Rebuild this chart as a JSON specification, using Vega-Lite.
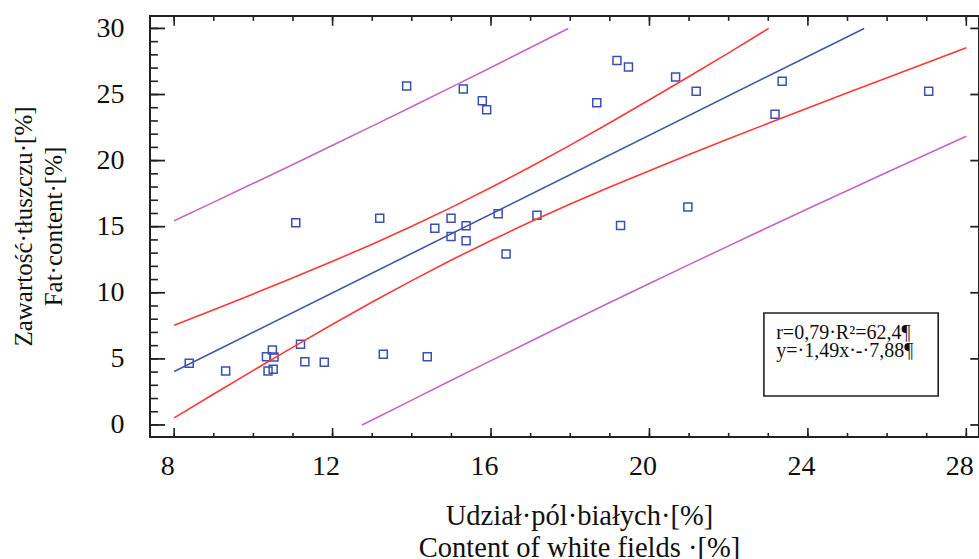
{
  "$schema": "https://vega.github.io/schema/vega-lite/v6.json",
  "autosize": {"type": "none"},
  "padding": {"left": 150, "top": 16, "right": 0, "bottom": 122},
  "width": 829,
  "height": 421,
  "background": "white",
  "config": {
    "view": {"stroke": "#222", "strokeWidth": 2},
    "axis": {"grid": false, "labelFont": "Liberation Serif", "titleFont": "Liberation Serif", "labelColor": "#111", "titleColor": "#111", "titleFontWeight": "normal", "labelFlush": false, "labelOverlap": false, "labelBound": false}
  },
  "datasets": {
    "pts": [
      {"x": 8.38, "y": 4.67}, {"x": 9.30, "y": 4.08}, {"x": 10.33, "y": 5.17}, {"x": 10.48, "y": 5.67},
      {"x": 10.52, "y": 5.15}, {"x": 10.37, "y": 4.08}, {"x": 10.50, "y": 4.21}, {"x": 11.19, "y": 6.10},
      {"x": 11.30, "y": 4.79}, {"x": 11.79, "y": 4.74}, {"x": 13.28, "y": 5.35}, {"x": 14.39, "y": 5.17},
      {"x": 11.07, "y": 15.30}, {"x": 13.19, "y": 15.63}, {"x": 14.58, "y": 14.88}, {"x": 14.99, "y": 15.63},
      {"x": 14.99, "y": 14.25}, {"x": 15.37, "y": 15.08}, {"x": 15.37, "y": 13.94}, {"x": 16.18, "y": 15.98},
      {"x": 16.38, "y": 12.93}, {"x": 17.16, "y": 15.86}, {"x": 19.27, "y": 15.10}, {"x": 20.97, "y": 16.49},
      {"x": 13.87, "y": 25.64}, {"x": 15.30, "y": 25.42}, {"x": 15.78, "y": 24.53}, {"x": 15.89, "y": 23.85},
      {"x": 18.67, "y": 24.38}, {"x": 19.18, "y": 27.58}, {"x": 19.47, "y": 27.08}, {"x": 20.66, "y": 26.32},
      {"x": 21.18, "y": 25.24}, {"x": 23.35, "y": 26.00}, {"x": 23.17, "y": 23.50}, {"x": 27.05, "y": 25.24}
    ],
    "curves": [
      {"s": "fit", "x": 8, "y": 4.04}, {"s": "fit", "x": 25.42, "y": 30.0},
      {"s": "ciu", "x": 8, "y": 7.54}, {"s": "ciu", "x": 9, "y": 8.72}, {"s": "ciu", "x": 10, "y": 9.91},
      {"s": "ciu", "x": 11, "y": 11.13}, {"s": "ciu", "x": 12, "y": 12.38}, {"s": "ciu", "x": 13, "y": 13.68},
      {"s": "ciu", "x": 14, "y": 15.04}, {"s": "ciu", "x": 15, "y": 16.46}, {"s": "ciu", "x": 16, "y": 17.96},
      {"s": "ciu", "x": 17, "y": 19.53}, {"s": "ciu", "x": 18, "y": 21.17}, {"s": "ciu", "x": 19, "y": 22.86},
      {"s": "ciu", "x": 20, "y": 24.60}, {"s": "ciu", "x": 21, "y": 26.36}, {"s": "ciu", "x": 22, "y": 28.15},
      {"s": "ciu", "x": 23.01, "y": 30.0},
      {"s": "cil", "x": 8, "y": 0.54}, {"s": "cil", "x": 9, "y": 2.34}, {"s": "cil", "x": 10, "y": 4.13},
      {"s": "cil", "x": 11, "y": 5.89}, {"s": "cil", "x": 12, "y": 7.62}, {"s": "cil", "x": 13, "y": 9.30},
      {"s": "cil", "x": 14, "y": 10.92}, {"s": "cil", "x": 15, "y": 12.48}, {"s": "cil", "x": 16, "y": 13.96},
      {"s": "cil", "x": 17, "y": 15.37}, {"s": "cil", "x": 18, "y": 16.71}, {"s": "cil", "x": 19, "y": 18.00},
      {"s": "cil", "x": 20, "y": 19.24}, {"s": "cil", "x": 21, "y": 20.46}, {"s": "cil", "x": 22, "y": 21.65},
      {"s": "cil", "x": 23, "y": 22.82}, {"s": "cil", "x": 24, "y": 23.98}, {"s": "cil", "x": 25, "y": 25.13},
      {"s": "cil", "x": 26, "y": 26.27}, {"s": "cil", "x": 27, "y": 27.41}, {"s": "cil", "x": 28, "y": 28.54},
      {"s": "piu", "x": 8, "y": 15.45}, {"s": "piu", "x": 9, "y": 16.86}, {"s": "piu", "x": 10, "y": 18.28},
      {"s": "piu", "x": 11, "y": 19.71}, {"s": "piu", "x": 12, "y": 21.16}, {"s": "piu", "x": 13, "y": 22.61},
      {"s": "piu", "x": 14, "y": 24.08}, {"s": "piu", "x": 15, "y": 25.56}, {"s": "piu", "x": 16, "y": 27.05},
      {"s": "piu", "x": 17, "y": 28.56}, {"s": "piu", "x": 17.95, "y": 30.0},
      {"s": "pil", "x": 12.74, "y": 0.0}, {"s": "pil", "x": 13, "y": 0.37}, {"s": "pil", "x": 14, "y": 1.88},
      {"s": "pil", "x": 15, "y": 3.38}, {"s": "pil", "x": 16, "y": 4.87}, {"s": "pil", "x": 17, "y": 6.34},
      {"s": "pil", "x": 18, "y": 7.81}, {"s": "pil", "x": 19, "y": 9.26}, {"s": "pil", "x": 20, "y": 10.70},
      {"s": "pil", "x": 21, "y": 12.13}, {"s": "pil", "x": 22, "y": 13.55}, {"s": "pil", "x": 23, "y": 14.96},
      {"s": "pil", "x": 24, "y": 16.36}, {"s": "pil", "x": 25, "y": 17.74}, {"s": "pil", "x": 26, "y": 19.12},
      {"s": "pil", "x": 27, "y": 20.48}, {"s": "pil", "x": 28, "y": 21.84}
    ],
    "box": [{"x": 22.89, "x2": 27.29, "y": 2.19, "y2": 8.47}],
    "notes": [
      {"x": 23.2, "y": 6.98, "t": "r=0,79·R²=62,4¶"},
      {"x": 23.2, "y": 5.62, "t": "y=·1,49x·-·7,88¶"}
    ],
    "xt": [
      {"v": 8, "k": "major"}, {"v": 9, "k": "minor"}, {"v": 10, "k": "minor"}, {"v": 11, "k": "minor"},
      {"v": 12, "k": "major"}, {"v": 13, "k": "minor"}, {"v": 14, "k": "minor"}, {"v": 15, "k": "minor"},
      {"v": 16, "k": "major"}, {"v": 17, "k": "minor"}, {"v": 18, "k": "minor"}, {"v": 19, "k": "minor"},
      {"v": 20, "k": "major"}, {"v": 21, "k": "minor"}, {"v": 22, "k": "minor"}, {"v": 23, "k": "minor"},
      {"v": 24, "k": "major"}, {"v": 25, "k": "minor"}, {"v": 26, "k": "minor"}, {"v": 27, "k": "minor"},
      {"v": 28, "k": "major"}
    ],
    "yt": [
      {"v": 0, "k": "major"}, {"v": 1, "k": "minor"}, {"v": 2, "k": "minor"}, {"v": 3, "k": "minor"}, {"v": 4, "k": "minor"},
      {"v": 5, "k": "major"}, {"v": 6, "k": "minor"}, {"v": 7, "k": "minor"}, {"v": 8, "k": "minor"}, {"v": 9, "k": "minor"},
      {"v": 10, "k": "major"}, {"v": 11, "k": "minor"}, {"v": 12, "k": "minor"}, {"v": 13, "k": "minor"}, {"v": 14, "k": "minor"},
      {"v": 15, "k": "major"}, {"v": 16, "k": "minor"}, {"v": 17, "k": "minor"}, {"v": 18, "k": "minor"}, {"v": 19, "k": "minor"},
      {"v": 20, "k": "major"}, {"v": 21, "k": "minor"}, {"v": 22, "k": "minor"}, {"v": 23, "k": "minor"}, {"v": 24, "k": "minor"},
      {"v": 25, "k": "major"}, {"v": 26, "k": "minor"}, {"v": 27, "k": "minor"}, {"v": 28, "k": "minor"}, {"v": 29, "k": "minor"},
      {"v": 30, "k": "major"}
    ]
  },
  "resolve": {"axis": {"x": "independent", "y": "independent"}},
  "layer": [
    {
      "data": {"name": "pts"},
      "mark": {"type": "point", "shape": "square", "filled": false, "color": "#3a50b0", "size": 64, "strokeWidth": 1.5, "opacity": 1},
      "encoding": {
        "x": {"field": "x", "type": "quantitative", "scale": {"domain": [7.39, 28.32], "nice": false, "zero": false},
          "axis": {"orient": "bottom", "values": [8, 12, 16, 20, 24, 28], "ticks": false, "domain": false, "labelPadding": 29, "labelBaseline": "middle", "labelOffset": -7, "labelFontSize": 28,
            "title": ["Udział·pól·białych·[%]", "Content of white fields ·[%]"], "titleFontSize": 28.5, "titleX": 429, "titleY": 78, "titleBaseline": "middle", "titleAlign": "center", "titleAngle": 0, "titleLineHeight": 32}},
        "y": {"field": "y", "type": "quantitative", "scale": {"domain": [-0.91, 30.94], "nice": false, "zero": false},
          "axis": {"orient": "left", "values": [0, 5, 10, 15, 20, 25, 30], "ticks": false, "domain": false, "labelPadding": 26, "labelBaseline": "middle", "labelFontSize": 28,
            "title": ["Zawartość·tłuszczu·[%]", "Fat·content·[%]"], "titleFontSize": 25, "titleX": -127, "titleY": 210, "titleBaseline": "middle", "titleAlign": "center", "titleAngle": -90, "titleLineHeight": 30}}
      }
    },
    {
      "data": {"name": "curves"},
      "transform": [{"filter": "datum.s === 'fit'"}],
      "mark": {"type": "line", "color": "#4655a8", "strokeWidth": 1.6},
      "encoding": {
        "x": {"field": "x", "type": "quantitative", "axis": null},
        "y": {"field": "y", "type": "quantitative", "axis": null}
      }
    },
    {
      "data": {"name": "curves"},
      "transform": [{"filter": "datum.s === 'ciu' || datum.s === 'cil'"}],
      "mark": {"type": "line", "color": "#ff3838", "strokeWidth": 1.6},
      "encoding": {
        "detail": {"field": "s"},
        "x": {"field": "x", "type": "quantitative", "axis": null},
        "y": {"field": "y", "type": "quantitative", "axis": null}
      }
    },
    {
      "data": {"name": "curves"},
      "transform": [{"filter": "datum.s === 'piu' || datum.s === 'pil'"}],
      "mark": {"type": "line", "color": "#c465c4", "strokeWidth": 1.6},
      "encoding": {
        "detail": {"field": "s"},
        "x": {"field": "x", "type": "quantitative", "axis": null},
        "y": {"field": "y", "type": "quantitative", "axis": null}
      }
    },
    {
      "data": {"name": "box"},
      "mark": {"type": "rect", "fill": "white", "stroke": "#222", "strokeWidth": 1.6},
      "encoding": {
        "x": {"field": "x", "type": "quantitative", "axis": null},
        "x2": {"field": "x2"},
        "y": {"field": "y", "type": "quantitative", "axis": null},
        "y2": {"field": "y2"}
      }
    },
    {
      "data": {"name": "notes"},
      "mark": {"type": "text", "align": "left", "baseline": "middle", "font": "Liberation Serif", "fontSize": 20, "color": "#111"},
      "encoding": {
        "x": {"field": "x", "type": "quantitative", "axis": null},
        "y": {"field": "y", "type": "quantitative", "axis": null},
        "text": {"field": "t"}
      }
    },
    {
      "data": {"name": "xt"},
      "transform": [{"filter": "datum.k === 'major'"}],
      "mark": {"type": "rule", "color": "#222", "strokeWidth": 1.6},
      "encoding": {
        "x": {"field": "v", "type": "quantitative", "axis": null},
        "y": {"datum": -0.91, "type": "quantitative", "axis": null},
        "y2": {"datum": -0.23}
      }
    },
    {
      "data": {"name": "xt"},
      "mark": {"type": "rule", "color": "#222", "strokeWidth": 1.6},
      "encoding": {
        "x": {"field": "v", "type": "quantitative", "axis": null},
        "y": {"datum": -0.91, "type": "quantitative", "axis": null},
        "y2": {"datum": -0.6}
      }
    },
    {
      "data": {"name": "xt"},
      "transform": [{"filter": "datum.k === 'major'"}],
      "mark": {"type": "rule", "color": "#222", "strokeWidth": 1.6},
      "encoding": {
        "x": {"field": "v", "type": "quantitative", "axis": null},
        "y": {"datum": 30.94, "type": "quantitative", "axis": null},
        "y2": {"datum": 30.2}
      }
    },
    {
      "data": {"name": "xt"},
      "mark": {"type": "rule", "color": "#222", "strokeWidth": 1.6},
      "encoding": {
        "x": {"field": "v", "type": "quantitative", "axis": null},
        "y": {"datum": 30.94, "type": "quantitative", "axis": null},
        "y2": {"datum": 30.57}
      }
    },
    {
      "data": {"name": "yt"},
      "transform": [{"filter": "datum.k === 'major'"}],
      "mark": {"type": "rule", "color": "#222", "strokeWidth": 1.8},
      "encoding": {
        "y": {"field": "v", "type": "quantitative", "axis": null},
        "x": {"datum": 7.39, "type": "quantitative", "axis": null},
        "x2": {"datum": 7.77}
      }
    },
    {
      "data": {"name": "yt"},
      "mark": {"type": "rule", "color": "#222", "strokeWidth": 1.6},
      "encoding": {
        "y": {"field": "v", "type": "quantitative", "axis": null},
        "x": {"datum": 7.39, "type": "quantitative", "axis": null},
        "x2": {"datum": 7.59}
      }
    },
    {
      "data": {"name": "yt"},
      "transform": [{"filter": "datum.k === 'major'"}],
      "mark": {"type": "rule", "color": "#222", "strokeWidth": 1.8},
      "encoding": {
        "y": {"field": "v", "type": "quantitative", "axis": null},
        "x": {"datum": 28.32, "type": "quantitative", "axis": null},
        "x2": {"datum": 28.1}
      }
    }
  ]
}
